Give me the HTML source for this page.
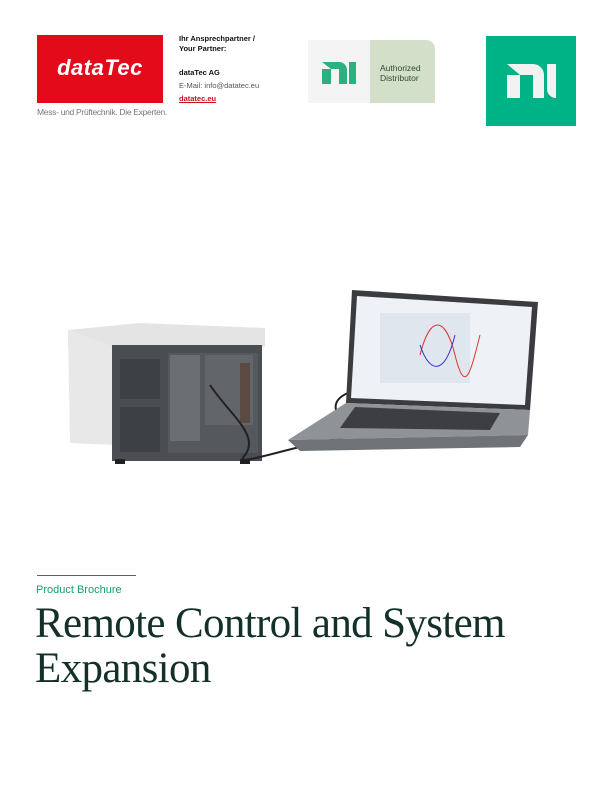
<!DOCTYPE html>
<html><head><meta charset="utf-8"><style>
body{margin:0;width:612px;height:792px;background:#fff;position:relative;overflow:hidden;font-family:"Liberation Sans",sans-serif}
.a{position:absolute}
</style></head><body>
<div class="a" style="left:37px;top:35px;width:126px;height:68px;background:#e30a1a"></div>
<div class="a" style="left:37px;top:55px;width:126px;text-align:center;color:#fff;font:italic bold 22px 'Liberation Sans',sans-serif;letter-spacing:0.5px">dataTec</div>
<div class="a" style="left:37px;top:107px;font-size:8.5px;color:#777;letter-spacing:-0.3px">Mess- und Prüftechnik. Die Experten.</div>
<div class="a" style="left:179px;top:34px;font-size:7.5px;line-height:10px;color:#111;font-weight:bold">Ihr Ansprechpartner /<br>Your Partner:</div>
<div class="a" style="left:179px;top:68px;font-size:7.5px;line-height:10px;color:#111;font-weight:bold">dataTec AG</div>
<div class="a" style="left:179px;top:81px;font-size:7.5px;line-height:10px;color:#555">E-Mail: info@datatec.eu</div>
<div class="a" style="left:179px;top:94px;font-size:7.5px;line-height:10px;color:#d01020;font-weight:bold;text-decoration:underline">datatec.eu</div>
<div class="a" style="left:308px;top:40px;width:62px;height:63px;background:#f4f4f4"></div>
<div class="a" style="left:370px;top:40px;width:65px;height:63px;background:#d3dfc9;border-top-right-radius:9px"></div>
<svg class="a" style="left:322px;top:62px" width="34" height="22"><rect x="0" y="7" width="9" height="15" fill="#2bb07f"/><path d="M0 0H17A8 8 0 0 1 25 8V22H17V7H9" fill="#2bb07f"/><rect x="27" y="0" width="7" height="22" fill="#2bb07f"/></svg>
<div class="a" style="left:380px;top:63px;font-size:8.5px;line-height:10px;color:#2d4a3a">Authorized<br>Distributor</div>
<div class="a" style="left:486px;top:36px;width:90px;height:90px;background:#00b386"></div>
<svg class="a" style="left:507px;top:64px" width="50" height="34"><rect x="0" y="11" width="13" height="23" fill="#f2f2f2"/><path d="M0 0H26A11 11 0 0 1 37 11V34H26V11H13V11" fill="#f2f2f2"/><path d="M40 0H49V34A9 9 0 0 1 40 25Z" fill="#f2f2f2"/></svg>
<svg class="a" style="left:60px;top:285px" width="490" height="185">
<polygon points="8,45 80,38 205,43 205,62 8,62" fill="#e4e4e4"/>
<polygon points="8,45 55,62 55,160 10,158" fill="#e8e8e8"/>
<rect x="52" y="60" width="150" height="116" fill="#4a4d52"/>
<rect x="60" y="74" width="40" height="40" fill="#3d4044"/>
<rect x="60" y="122" width="40" height="45" fill="#3d4044"/>
<rect x="108" y="68" width="90" height="100" fill="#55585c"/>
<rect x="110" y="70" width="30" height="86" fill="#6b6e72"/>
<rect x="145" y="70" width="48" height="70" fill="#62656a"/>
<rect x="180" y="78" width="10" height="60" fill="#5a4a42"/>
<rect x="55" y="174" width="10" height="5" fill="#222"/><rect x="180" y="174" width="10" height="5" fill="#222"/>
<path d="M150 100 C170 130 200 150 185 170 C170 185 230 160 300 150 C240 110 300 95 380 100" stroke="#222" stroke-width="2" fill="none"/>
<polygon points="292,5 478,17 470,125 286,118" fill="#3a3c3f"/>
<polygon points="297,11 472,22 465,120 291,113" fill="#eef2f6"/>
<rect x="320" y="28" width="90" height="70" fill="#dfe6ee"/>
<path d="M360 70 C370 30 385 30 395 70 S410 90 420 50" stroke="#d33" fill="none"/>
<path d="M360 60 C370 90 385 90 395 50" stroke="#33c" fill="none"/>
<polygon points="286,118 470,125 468,150 228,155" fill="#8f9296"/>
<polygon points="228,155 468,150 460,162 240,166" fill="#6f7276"/>
<polygon points="295,122 440,128 430,145 280,143" fill="#3c3e41"/>
</svg>
<div class="a" style="left:37px;top:575px;width:99px;height:1px;background:#2e7a5a"></div>
<div class="a" style="left:36px;top:584px;font-size:11px;color:#15a070">Product Brochure</div>
<div class="a" style="left:35px;top:601px;font:43px/45px 'Liberation Serif',serif;color:#13302a;letter-spacing:-0.65px">Remote Control and System<br>Expansion</div>
</body></html>
